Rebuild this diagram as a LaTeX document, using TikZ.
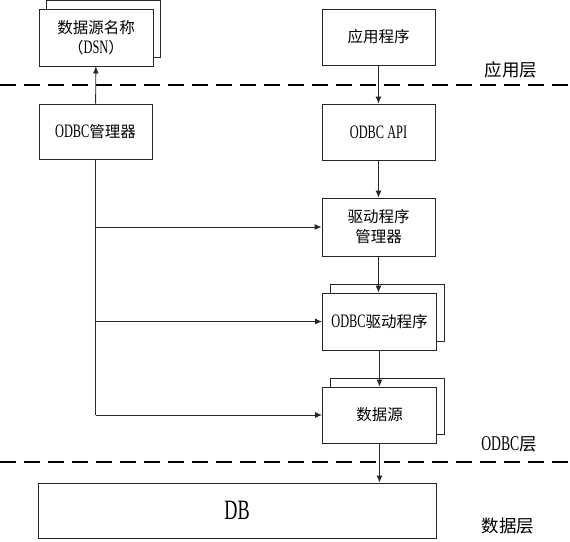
\documentclass[tikz,border=0pt]{standalone}
\usepackage{fontspec}
\setmainfont{Noto Sans CJK SC}
\newfontfamily\latfont[FakeStretch=0.65]{Liberation Serif}
\newcommand\latx[1]{{\latfont\fontsize{19}{19}\selectfont #1}}
\newcommand\latl[1]{{\latfont\fontsize{21}{21}\selectfont #1}}
\newcommand\latbig[1]{{\latfont\fontsize{28}{28}\selectfont #1}}
\usetikzlibrary{arrows.meta}
\begin{document}
\begin{tikzpicture}[x=1pt,y=-1pt,
  box/.style={draw=black!85,line width=0.9pt,fill=white,inner sep=0pt,align=center,
    font=\fontsize{15.5}{20}\selectfont},
  conn/.style={draw=black!85,line width=0.9pt,-{Latex[length=7pt,width=6pt]}},
  sep/.style={draw=black,line width=1.8pt,dash pattern=on 16pt off 8pt},
  lbl/.style={inner sep=0pt,font=\fontsize{17.5}{20}\selectfont}]
\useasboundingbox (0,0) rectangle (570,541);
% layer separators
\coordinate (l1a) at (0,85);
\coordinate (l1b) at (570,85);
\coordinate (l2a) at (0,462);
\coordinate (l2b) at (570,462);
\draw[sep] (l1a) -- (l1b);
\draw[sep] (l2a) -- (l2b);
% DSN (stacked)
\node[box,minimum width=114pt,minimum height=57pt] (dsnb) at (103,28.5) {};
\node[box,minimum width=114pt,minimum height=57pt] (dsn) at (96,37.5) {数据源名称\\（\latx{DSN}）};
% ODBC manager
\node[box,minimum width=113pt,minimum height=55pt] (mgr) at (95.5,131.5) {\latx{ODBC}管理器};
% right column
\node[box,minimum width=113pt,minimum height=56pt] (app) at (378.5,37) {应用程序};
\node[box,minimum width=113pt,minimum height=56pt] (api) at (378.5,132) {\latx{ODBC API}};
\node[box,minimum width=113pt,minimum height=58pt] (dm) at (378.5,227) {驱动程序\\管理器};
\node[box,minimum width=114pt,minimum height=57pt] (drvb) at (387,312.5) {};
\node[box,minimum width=114pt,minimum height=57pt] (drv) at (379.5,321.5) {\latx{ODBC}驱动程序};
\node[box,minimum width=114pt,minimum height=56pt] (dsb) at (387,406) {};
\node[box,minimum width=114pt,minimum height=56pt] (ds) at (379.5,415) {数据源};
\node[box,minimum width=398pt,minimum height=55pt] (db) at (237,510.5) {\latbig{DB}};
% layer labels
\node[lbl] (la) at (511,70) {应用层};
\node[lbl] (lo) at (509,444) {\latl{ODBC}层};
\node[lbl] (ld) at (508,526) {数据层};
% connectors
\draw[conn] (app) -- (api);
\draw[conn] (api) -- (dm);
\draw[conn] (dm) -- (dm |- drv.north);
\draw[conn] (drv) -- (drv |- ds.north);
\draw[conn] (ds) -- (ds |- db.north);
\draw[conn] (mgr) -- (dsn);
\coordinate (t1) at (mgr.south |- dm.west);
\coordinate (t2) at (mgr.south |- drv.west);
\coordinate (t3) at (mgr.south |- ds.west);
\draw[draw=black!85,line width=0.9pt] (mgr.south) -- (t3);
\draw[conn] (t1) -- (dm.west);
\draw[conn] (t2) -- (drv.west);
\draw[conn] (t3) -- (ds.west);
\end{tikzpicture}
\end{document}
